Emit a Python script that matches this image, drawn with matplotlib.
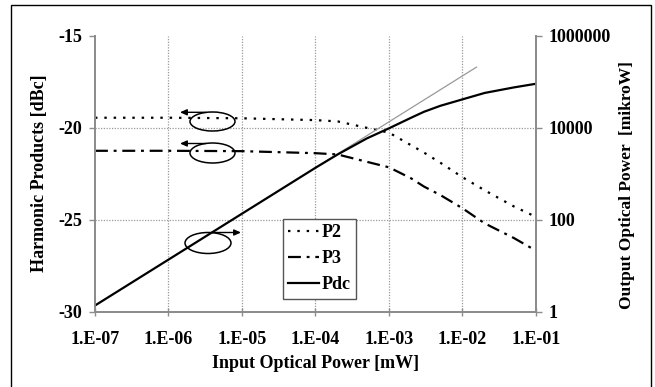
import matplotlib
matplotlib.use("Agg")
import matplotlib.pyplot as plt
from matplotlib.patches import Ellipse, Rectangle, FancyArrowPatch

# ---- data ----
x_in = [1e-7, 1e-6, 1e-5, 1e-4, 2e-4, 5e-4, 1e-3, 2e-3, 3e-3, 5e-3, 1e-2, 2e-2, 5e-2, 1e-1]
p2 = [-19.45, -19.45, -19.48, -19.58, -19.65, -20.0, -20.26, -20.95, -21.35, -21.9, -22.69, -23.4, -24.28, -24.85]
p3 = [-21.25, -21.25, -21.27, -21.38, -21.45, -21.85, -22.15, -22.75, -23.2, -23.66, -24.38, -25.2, -26.0, -26.69]
pdc = [1.35, 13.5, 135, 1350, 2630, 5890, 9770, 16600, 22400, 30200, 41700, 57500, 75900, 91200]
lin_x = [1e-4, 1.55e-2]
lin_y = [1350, 2.1e5]

x_ticks = [1e-7, 1e-6, 1e-5, 1e-4, 1e-3, 1e-2, 1e-1]
x_labels = ["1.E-07", "1.E-06", "1.E-05", "1.E-04", "1.E-03", "1.E-02", "1.E-01"]
yl_ticks = [-30, -25, -20, -15]
yr_ticks = [1, 100, 10000, 1000000]
yr_labels = ["1", "100", "10000", "1000000"]

FONT = "Liberation Serif"
FS = 13
plt.rcParams['font.family'] = [FONT, 'DejaVu Serif']
plt.rcParams['font.weight'] = 'bold'

W, H = 655, 387
fig = plt.figure(figsize=(W / 100, H / 100), dpi=100)
ax = fig.add_axes([95 / W, 1 - 311.5 / H, (536 - 95) / W, (311.5 - 36) / H])
ax2 = ax.twinx()

ax.set_xscale('log')
ax.set_xlim(1e-7, 1e-1)
ax.set_ylim(-30, -15)
ax2.set_yscale('log')
ax2.set_ylim(1, 1e6)

gray = '#8c8c8c'
l_p2, = ax.plot(x_in, p2, color='black', lw=1.6, dashes=(1.1, 3.1), label='P2')
l_p3, = ax.plot(x_in, p3, color='black', lw=1.6, dashes=(5.8, 2.6, 1.3, 2.6), label='P3')
ax2.plot(lin_x, lin_y, color='#999999', lw=0.9)
l_pdc, = ax2.plot(x_in, pdc, color='black', lw=1.6, label='Pdc')

# ticks
ax.set_xticks(x_ticks)
ax.set_xticklabels(x_labels)
ax.xaxis.set_minor_locator(matplotlib.ticker.NullLocator())
ax.set_yticks(yl_ticks)
ax.set_yticklabels([str(v) for v in yl_ticks])
ax2.set_yticks(yr_ticks)
ax2.set_yticklabels(yr_labels)
ax2.yaxis.set_minor_locator(matplotlib.ticker.NullLocator())

for a in (ax, ax2):
    for s in a.spines.values():
        s.set_color(gray)
        s.set_linewidth(1.3)
    a.spines['top'].set_visible(False)

ax.tick_params(axis='x', direction='inout', length=6, width=1, color=gray, pad=11,
               labelsize=FS)
ax.tick_params(axis='y', direction='out', length=4, width=1, color=gray, pad=5,
               labelsize=FS)
ax2.tick_params(axis='y', direction='out', length=4, width=1, color=gray, pad=5,
                labelsize=FS)
for lab in ax.get_xticklabels() + ax.get_yticklabels() + ax2.get_yticklabels():
    lab.set_fontweight('bold')

# grid
ax.grid(True, color='#9a9a9a', linestyle=(0, (1, 1.2)), linewidth=0.9)
xg = ax.get_xgridlines()
xg[0].set_visible(False)
xg[-1].set_visible(False)
yg = ax.get_ygridlines()
yg[0].set_visible(False)
yg[-1].set_visible(False)
ax.set_axisbelow(True)

ax.set_xlabel("Input Optical Power [mW]", fontsize=FS, fontweight='bold', labelpad=5)

fig.text(40 / W, 1 - 173 / H, "Harmonic Products [dBc]", rotation=90,
         ha='center', va='center', fontsize=FS, fontweight='bold')
fig.text(627 / W, 1 - 185 / H, "Output Optical Power  [mikroW]", rotation=90,
         ha='center', va='center', fontsize=FS - 0.5, fontweight='bold')

# legend
leg = ax2.legend(handles=[l_p2, l_p3, l_pdc], loc='upper left',
                 bbox_to_anchor=((283 - 95) / 441, (311.5 - 219) / 275.5),
                 frameon=True, fancybox=False, edgecolor='#555555', framealpha=1,
                 prop={'family': FONT, 'weight': 'bold', 'size': FS},
                 handlelength=1.7, handletextpad=0.15, labelspacing=0.5,
                 borderpad=0.3, borderaxespad=0)
leg.get_frame().set_linewidth(1.0)

# annotations: ellipses with arrows (figure-pixel based)
def px(xp, yp):
    return (xp / W, 1 - yp / H)

def ell(cx, cy, w, h):
    e = Ellipse(px(cx, cy), w / W, h / H, transform=fig.transFigure,
                fill=False, edgecolor='black', lw=1.1)
    fig.add_artist(e)

def arrow(x0, y0, x1, y1):
    fig.add_artist(FancyArrowPatch(
        px(x0, y0), px(x1, y1), transform=fig.transFigure,
        arrowstyle='-|>,head_length=4,head_width=1.8', color='black', lw=1.0,
        shrinkA=0, shrinkB=0))

ell(212.5, 121.5, 45, 19)
arrow(206, 112.3, 180, 112.3)
ell(212.5, 153, 45, 20)
arrow(206, 143.5, 180, 143.5)
ell(208, 243, 46, 21)
arrow(212, 232.5, 241, 232.5)

# figure border
fig.add_artist(Rectangle((11 / W, -0.01), (651 - 11) / W, 1 - 5 / H + 0.01,
                         transform=fig.transFigure, fill=False,
                         edgecolor='black', lw=1.0))

fig.savefig("out.png", dpi=100)
